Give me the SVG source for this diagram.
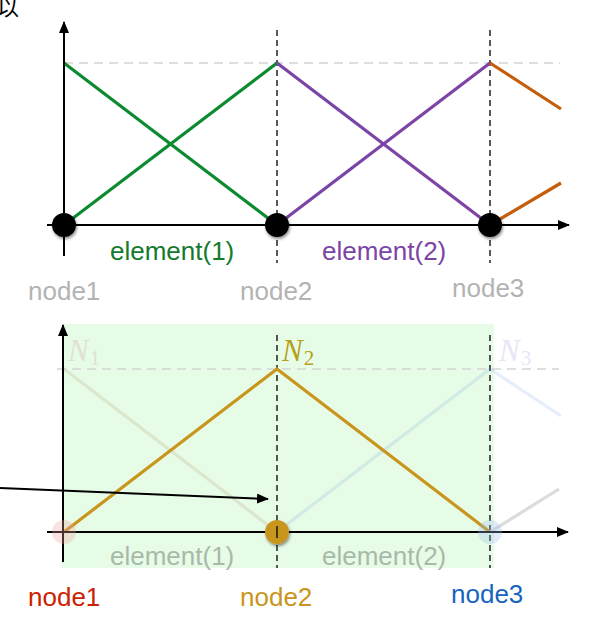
<svg xmlns="http://www.w3.org/2000/svg" width="598" height="617" viewBox="0 0 598 617">
<defs>
<style>
.axis{stroke:#000;stroke-width:2;fill:none}
.vdash{stroke:#000;stroke-width:1.3;stroke-dasharray:6 4;fill:none}
.hdash{stroke:#d4d4d4;stroke-width:1.3;stroke-dasharray:9 6;fill:none}
.fn{stroke-width:3.2;fill:none;stroke-linecap:butt;stroke-linejoin:miter}
.lbl{font-family:"Liberation Sans",Arial,sans-serif;font-size:26px}
.math{font-family:"Liberation Serif","Times New Roman",serif;font-style:italic;font-size:31px}
.sub{font-family:"Liberation Serif","Times New Roman",serif;font-style:normal;font-size:21px}
</style>
<marker id="ah" viewBox="0 0 12 10" refX="11" refY="5" markerWidth="12" markerHeight="10" markerUnits="userSpaceOnUse" orient="auto">
<path d="M0,0 L12,5 L0,10 Z" fill="#000"/>
</marker>
<filter id="sh" x="-50%" y="-50%" width="200%" height="200%">
<feDropShadow dx="1" dy="2" stdDeviation="1.6" flood-color="#000" flood-opacity="0.45"/>
</filter>
</defs>

<text x="-3" y="15" font-family="'Noto Sans CJK SC',sans-serif" font-size="22" fill="#000">以</text>

<!-- TOP CHART -->
<g id="top-grid">
<line class="hdash" x1="64" y1="63" x2="560" y2="63"/>
<line class="vdash" x1="277" y1="30" x2="277" y2="263"/>
<line class="vdash" x1="490" y1="30" x2="490" y2="263"/>
</g>
<g id="top-functions">
<polyline class="fn" stroke="#0c8a30" points="64,63 277,225"/>
<polyline class="fn" stroke="#0c8a30" points="64,225 277,63"/>
<polyline class="fn" stroke="#7b44a6" points="277,63 490,225"/>
<polyline class="fn" stroke="#7b44a6" points="277,225 490,63"/>
<polyline class="fn" stroke="#c45e0c" points="490,63 561,109"/>
<polyline class="fn" stroke="#c45e0c" points="490,225 561,183"/>
</g>
<g id="top-axes">
<line class="axis" x1="64" y1="256" x2="64" y2="22" marker-end="url(#ah)"/>
<line class="axis" x1="47" y1="225" x2="569" y2="225" marker-end="url(#ah)"/>
</g>
<g id="top-node1"><circle cx="64" cy="225" r="12" fill="#000" filter="url(#sh)"/><text class="lbl" x="28" y="300" fill="#b3b3b3">node1</text></g>
<g id="top-node2"><circle cx="277" cy="225" r="12" fill="#000" filter="url(#sh)"/><text class="lbl" x="240" y="300" fill="#b3b3b3">node2</text></g>
<g id="top-node3"><circle cx="490" cy="225" r="12" fill="#000" filter="url(#sh)"/><text class="lbl" x="452" y="297" fill="#b3b3b3">node3</text></g>
<g id="top-element1"><text class="lbl" x="110" y="260" fill="#147a2c">element(1)</text></g>
<g id="top-element2"><text class="lbl" x="322" y="260" fill="#7b44a6">element(2)</text></g>

<!-- BOTTOM CHART -->
<rect x="62" y="324" width="432" height="244" fill="#e7fce7"/>
<g id="bottom-grid">
<line class="hdash" x1="57" y1="369" x2="559" y2="369"/>
<line class="vdash" x1="277" y1="335" x2="277" y2="568"/>
<line class="vdash" x1="490" y1="335" x2="490" y2="568"/>
</g>
<g id="bottom-functions">
<polyline class="fn" stroke="#b0a070" stroke-opacity="0.22" points="64,369 277,532"/>
<polyline class="fn" stroke="#4a8ad8" stroke-opacity="0.14" points="277,532 490,369 561,416"/>
<polyline class="fn" stroke="#dcdcdc" points="490,532 559,489"/>
<polyline class="fn" stroke="#c8961c" points="64,532 277,369 490,532"/>
</g>
<g id="bottom-axes">
<line class="axis" x1="63" y1="562" x2="63" y2="325" marker-end="url(#ah)"/>
<line class="axis" x1="47" y1="532" x2="568" y2="532" marker-end="url(#ah)"/>
</g>
<g id="N1"><text class="math" x="68" y="361" fill="#e0e1d2">N<tspan class="sub" dx="1" dy="4">1</tspan></text></g>
<g id="N2"><text class="math" x="282" y="361" fill="#b5a01a">N<tspan class="sub" dx="1" dy="4">2</tspan></text></g>
<g id="N3"><text class="math" x="499" y="361" fill="#e6e6f8">N<tspan class="sub" dx="1" dy="4">3</tspan></text></g>
<g id="bottom-node1"><circle cx="64" cy="532" r="12" fill="#f0a0a0" fill-opacity="0.3"/><text class="lbl" x="28" y="606" fill="#cc2200">node1</text></g>
<g id="bottom-node2"><circle cx="277" cy="532" r="12" fill="#c8961c" filter="url(#sh)"/><line x1="277" y1="526" x2="277" y2="538" stroke="#000" stroke-width="1.3"/><text class="lbl" x="240" y="606" fill="#c8961c">node2</text></g>
<g id="bottom-node3"><circle cx="490" cy="532" r="12" fill="#9ab8e8" fill-opacity="0.3"/><text class="lbl" x="451" y="603" fill="#1565c0">node3</text></g>
<g id="bottom-element1"><text class="lbl" x="110" y="565" fill="#a9b9a9">element(1)</text></g>
<g id="bottom-element2"><text class="lbl" x="322" y="565" fill="#a9b9a9">element(2)</text></g>

<g id="connectors">
<line x1="0" y1="488" x2="268" y2="499" stroke="#000" stroke-width="2" marker-end="url(#ah)"/>
</g>
</svg>
